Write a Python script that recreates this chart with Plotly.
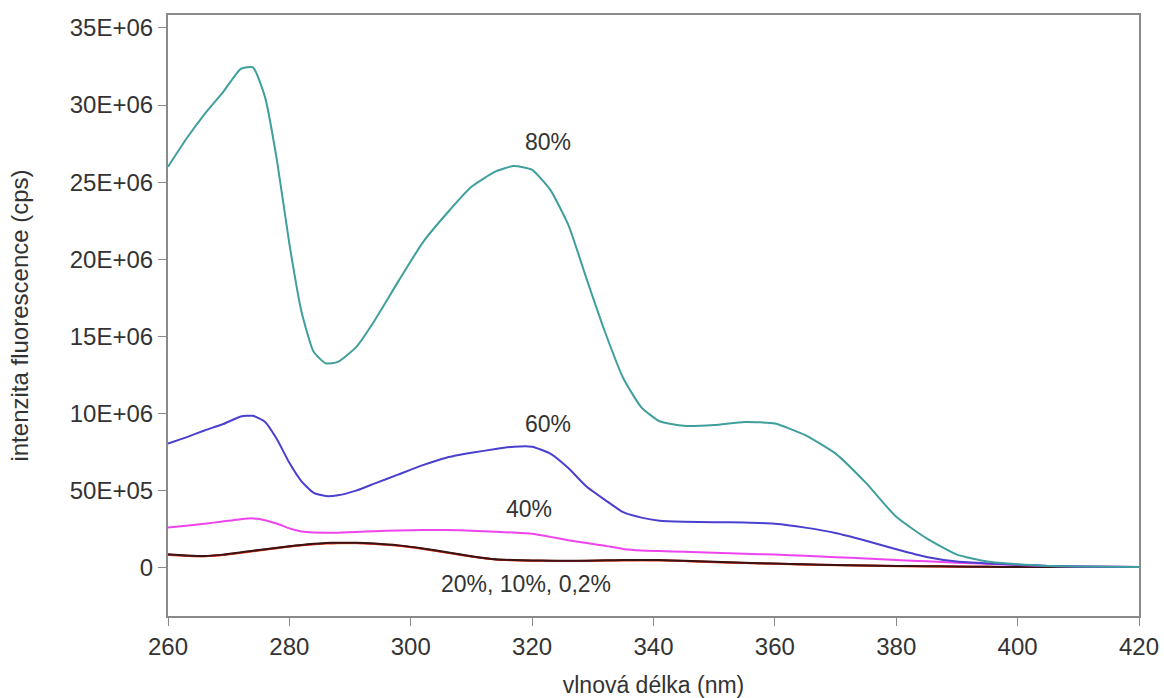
import plotly.graph_objects as go

# Wavelength grid (nm)
wavelength = [260, 263, 266, 269, 272, 274, 276, 278, 280, 282, 284, 286, 288, 291,
              294, 298, 302, 306, 310, 314, 317, 320, 323, 326, 329, 332, 335, 338,
              341, 345, 350, 355, 360, 365, 370, 375, 380, 385, 390, 395, 400, 405,
              410, 420]

# Fluorescence intensity in units of 1E+06 cps
i80 = [26.0, 27.8, 29.4, 30.8, 32.35, 32.45, 30.5, 26.3, 21.0, 16.6, 14.0, 13.25, 13.35, 14.3,
       16.0, 18.6, 21.1, 23.0, 24.7, 25.7, 26.05, 25.8, 24.5, 22.2, 18.7, 15.3, 12.3, 10.4,
       9.5, 9.2, 9.25, 9.45, 9.35, 8.6, 7.4, 5.5, 3.3, 1.9, 0.85, 0.4, 0.22, 0.12,
       0.08, 0.05]
i60 = [8.05, 8.45, 8.9, 9.3, 9.8, 9.85, 9.45, 8.3, 6.8, 5.6, 4.85, 4.65, 4.7, 5.0,
       5.45, 6.05, 6.65, 7.15, 7.45, 7.7, 7.85, 7.85, 7.4, 6.45, 5.25, 4.4, 3.6, 3.25,
       3.05, 2.98, 2.95, 2.93, 2.85, 2.6, 2.25, 1.75, 1.2, 0.7, 0.4, 0.28, 0.2, 0.12,
       0.08, 0.05]
i40 = [2.6, 2.72, 2.85, 3.0, 3.15, 3.2, 3.08, 2.85, 2.55, 2.35, 2.28, 2.27, 2.27, 2.32,
       2.37, 2.42, 2.45, 2.45, 2.4, 2.33, 2.28, 2.2, 2.0, 1.78, 1.6, 1.42, 1.22, 1.12,
       1.08, 1.03, 0.97, 0.9, 0.85, 0.78, 0.68, 0.6, 0.5, 0.42, 0.32, 0.25, 0.18, 0.12,
       0.08, 0.05]
i20 = [0.87, 0.8, 0.76, 0.85, 1.0, 1.1, 1.2, 1.3, 1.4, 1.48, 1.55, 1.6, 1.62, 1.62,
       1.57, 1.45, 1.25, 1.0, 0.75, 0.55, 0.5, 0.47, 0.46, 0.45, 0.46, 0.48, 0.5, 0.5,
       0.5, 0.45, 0.38, 0.32, 0.27, 0.22, 0.18, 0.15, 0.12, 0.1, 0.08, 0.06, 0.05, 0.05,
       0.05, 0.05]
i10 = [0.84, 0.78, 0.75, 0.83, 0.98, 1.08, 1.18, 1.28, 1.38, 1.46, 1.53, 1.58, 1.6, 1.6,
       1.55, 1.43, 1.23, 0.98, 0.73, 0.54, 0.49, 0.46, 0.45, 0.44, 0.45, 0.47, 0.48, 0.49,
       0.48, 0.44, 0.37, 0.31, 0.26, 0.21, 0.17, 0.14, 0.11, 0.09, 0.07, 0.06, 0.05, 0.05,
       0.05, 0.05]
i02 = [0.82, 0.77, 0.74, 0.82, 0.96, 1.06, 1.16, 1.27, 1.37, 1.45, 1.52, 1.57, 1.59, 1.59,
       1.54, 1.42, 1.22, 0.97, 0.72, 0.53, 0.48, 0.45, 0.44, 0.43, 0.44, 0.46, 0.47, 0.48,
       0.47, 0.43, 0.36, 0.3, 0.25, 0.2, 0.16, 0.13, 0.1, 0.08, 0.07, 0.06, 0.05, 0.05,
       0.05, 0.05]

series = [
    ("0,2%", i02, "#f07a3a"),
    ("10%", i10, "#e02a2a"),
    ("20%", i20, "#3a1414"),
    ("40%", i40, "#ee44ee"),
    ("60%", i60, "#4a3fcf"),
    ("80%", i80, "#3f9f9c"),
]

# Tick values and labels
y_ticks = [0, 5, 10, 15, 20, 25, 30, 35]
y_labels = ["0", "50E+05", "10E+06", "15E+06", "20E+06", "25E+06", "30E+06", "35E+06"]
x_ticks = [260, 280, 300, 320, 340, 360, 380, 400, 420]

# Curve labels: (text, wavelength, intensity)
labels = [
    ("80%", 322.6, 27.6),
    ("60%", 322.6, 9.3),
    ("40%", 319.5, 3.8),
    ("20%, 10%, 0,2%", 319.0, -1.05),
]

SCALE = 1e6
FONT = "Liberation Sans, Arial, sans-serif"
TEXT = "#333333"

fig = go.Figure()
for name, vals, color in series:
    fig.add_trace(go.Scatter(
        x=wavelength, y=[v * SCALE for v in vals], mode="lines", name=name,
        line=dict(color=color, width=2, shape="spline", smoothing=0.5),
        showlegend=False,
    ))

for text, xv, yv in labels:
    fig.add_annotation(x=xv, y=yv * SCALE, text=text, showarrow=False,
                       font=dict(family=FONT, size=23, color=TEXT))

axis_common = dict(
    showgrid=False, zeroline=False, showline=True, linecolor="#8a8a8a",
    linewidth=2, mirror=True, ticks="outside", ticklen=8, tickwidth=1,
    tickcolor="#8a8a8a", tickfont=dict(family=FONT, size=24, color=TEXT),
    automargin=False,
)

fig.update_layout(
    width=1164, height=698,
    margin=dict(l=168, r=25, t=15, b=82),
    paper_bgcolor="white", plot_bgcolor="white",
    xaxis=dict(range=[260, 420], tickvals=x_ticks,
               title=dict(text="vlnová délka (nm)", standoff=18,
                          font=dict(family=FONT, size=23, color=TEXT)),
               **axis_common),
    yaxis=dict(range=[-3.13 * SCALE, 35.84 * SCALE],
               tickvals=[t * SCALE for t in y_ticks], ticktext=y_labels,
               title=dict(text="intenzita fluorescence (cps)", standoff=34,
                          font=dict(family=FONT, size=24, color=TEXT)),
               **axis_common),
)

fig.write_html("out.html")
